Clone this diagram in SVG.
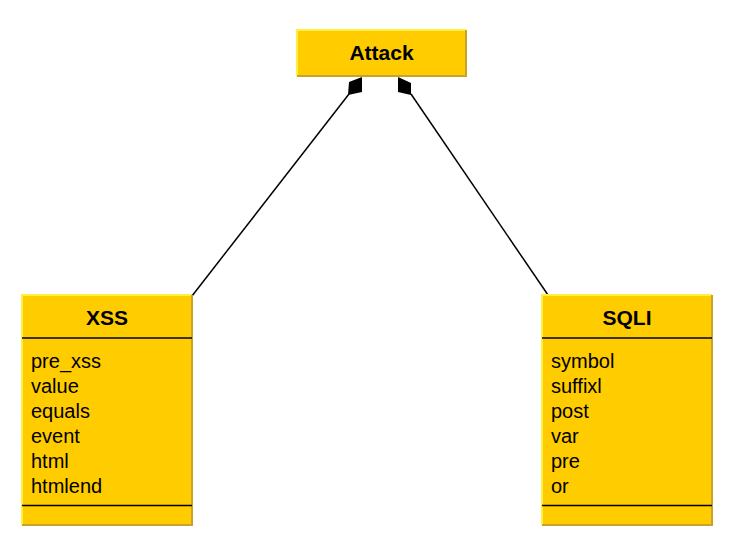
<svg xmlns="http://www.w3.org/2000/svg" width="756" height="548" viewBox="0 0 756 548">
<style>
.box{fill:#ffcc00}
.hi{stroke:#ffee44;stroke-width:2;fill:none}
.lo{stroke:#c8a22a;stroke-width:2;fill:none}
.sep{stroke:#000;stroke-width:1.6}
.title{font-family:"Liberation Sans",Arial,sans-serif;font-weight:bold;font-size:21px;text-anchor:middle;fill:#000}
.attr{font-family:"Liberation Sans",Arial,sans-serif;font-size:20px;fill:#000}
.conn{stroke:#000;stroke-width:1.5;fill:none}
.head{fill:#000}
</style>
<rect width="756" height="548" fill="#fff"/>
<g id="connectors">
<line class="conn" x1="192" y1="296" x2="349" y2="94"/>
<polygon class="head" points="349,82 362,77 362,92 348,95"/>
<line class="conn" x1="548" y1="295" x2="411" y2="94"/>
<polygon class="head" points="398,77 411,83 411,95 398,92"/>
</g>
<g id="attack">
<rect class="box" x="297" y="30" width="169" height="46"/>
<polyline class="hi" points="297,76 297,30 466,30"/>
<polyline class="lo" points="466,30 466,76 297,76"/>
<text class="title" x="381.5" y="60">Attack</text>
</g>
<g id="xss">
<rect class="box" x="22" y="295" width="170" height="230"/>
<polyline class="hi" points="22,525 22,295 192,295"/>
<polyline class="lo" points="192,295 192,525 22,525"/>
<line class="sep" x1="22" y1="338" x2="192" y2="338"/>
<line class="sep" x1="22" y1="505.5" x2="192" y2="505.5"/>
<text class="title" x="107" y="325">XSS</text>
<text class="attr" x="31" y="368">pre_xss</text>
<text class="attr" x="31" y="393">value</text>
<text class="attr" x="31" y="418">equals</text>
<text class="attr" x="31" y="443">event</text>
<text class="attr" x="31" y="468">html</text>
<text class="attr" x="31" y="493">htmlend</text>
</g>
<g id="sqli">
<rect class="box" x="542" y="295" width="170" height="230"/>
<polyline class="hi" points="542,525 542,295 712,295"/>
<polyline class="lo" points="712,295 712,525 542,525"/>
<line class="sep" x1="542" y1="338" x2="712" y2="338"/>
<line class="sep" x1="542" y1="505.5" x2="712" y2="505.5"/>
<text class="title" x="627" y="325">SQLI</text>
<text class="attr" x="551" y="368">symbol</text>
<text class="attr" x="551" y="393">suffixl</text>
<text class="attr" x="551" y="418">post</text>
<text class="attr" x="551" y="443">var</text>
<text class="attr" x="551" y="468">pre</text>
<text class="attr" x="551" y="493">or</text>
</g>
</svg>
